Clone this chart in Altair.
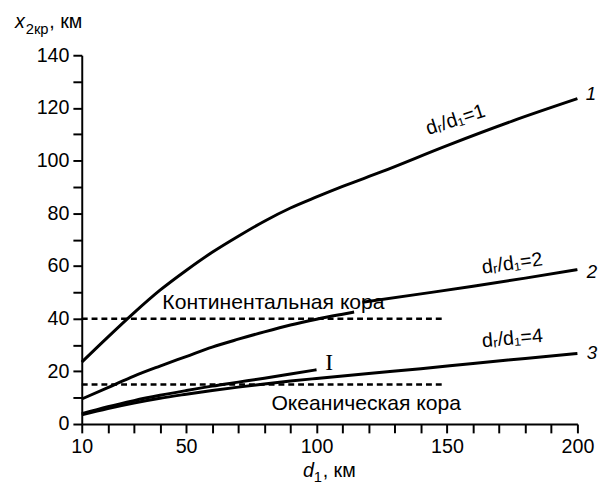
import altair as alt
import pandas as pd

# ---- data ----
d1_c1 = [10, 20, 30, 40, 50, 60, 70, 80, 90, 100, 110, 125, 150, 175, 200]
x2_c1 = [23.5, 33.0, 42.2, 50.8, 58.3, 65.2, 71.3, 77.0, 82.0, 86.2, 90.2, 95.8, 105.7, 115.0, 123.5]

d1_c2a = [10, 20, 30, 40, 50, 60, 70, 80, 90, 100, 110, 114.4]
x2_c2a = [9.5, 13.8, 18.2, 22.0, 25.6, 29.2, 32.2, 35.0, 37.6, 39.8, 41.7, 42.5]
d1_c2b = [117.6, 140, 160, 180, 200]
x2_c2b = [46.2, 49.4, 52.3, 55.4, 58.6]

d1_c3 = [10, 20, 30, 40, 50, 60, 70, 80, 90, 100, 120, 140, 160, 180, 200]
x2_c3 = [3.5, 5.9, 8.0, 9.8, 11.3, 12.7, 14.0, 15.2, 16.3, 17.3, 19.2, 21.0, 23.0, 24.9, 26.8]

d1_cI = [10, 20, 30, 40, 50, 60, 70, 80, 90, 100]
x2_cI = [3.9, 6.6, 8.9, 10.9, 12.7, 14.4, 15.9, 17.4, 19.0, 20.6]

crust_levels = [40, 15]
crust_start = [10, 10]
crust_end = [149, 149]

x_ticks = list(range(10, 201, 10))
y_ticks = list(range(0, 141, 5))

FONT = "Liberation Sans"

rows = []
for name, xs, ys in [("1", d1_c1, x2_c1), ("2a", d1_c2a, x2_c2a), ("2b", d1_c2b, x2_c2b),
                     ("3", d1_c3, x2_c3), ("I", d1_cI, x2_cI)]:
    for a, b in zip(xs, ys):
        rows.append({"series": name, "d1": a, "x2": b})
df = pd.DataFrame(rows)

xscale = alt.Scale(domain=[10, 200], nice=False, zero=False)
yscale = alt.Scale(domain=[0, 140], nice=False, zero=True)

xaxis = alt.Axis(values=x_ticks, title=None, grid=False, labelOverlap=False, labelFlush=False,
                 tickCount=20,
                 labelExpr="(datum.value == 10 || datum.value % 50 == 0) ? datum.label : ''")
yaxis = alt.Axis(values=y_ticks, title=None, grid=False, labelOverlap=False, tickCount=28,
                 labelExpr="(datum.value % 20 == 0) ? datum.label : ''")

def X(f):
    return alt.X(f, type="quantitative", scale=xscale, axis=xaxis)

def Y(f):
    return alt.Y(f, type="quantitative", scale=yscale, axis=yaxis)

lines = alt.Chart(df).mark_line(color="black", strokeWidth=3, interpolate="monotone").encode(
    x=X("d1"), y=Y("x2"), detail="series:N",
)

dash_df = pd.DataFrame({"y": crust_levels, "x": crust_start, "xe": crust_end})
dashes = alt.Chart(dash_df).mark_rule(color="black", strokeWidth=2.5, strokeDash=[6, 4]).encode(
    x=X("x"), x2="xe:Q", y=Y("y")
)

def txt(df_, **kw):
    return alt.Chart(pd.DataFrame(df_)).mark_text(font=FONT, color="black", **kw).encode(
        x=X("x"), y=Y("y"), text="t:N")

cont = txt({"x": [40.9], "y": [43.7], "t": ["Континентальная кора"]},
           fontSize=21.5, align="left", baseline="alphabetic")
ocean = txt({"x": [82.7], "y": [5.2], "t": ["Океаническая кора"]},
            fontSize=21.5, align="left", baseline="alphabetic")
roman = alt.Chart(pd.DataFrame({"x": [104.8], "y": [23.0], "t": ["I"]})).mark_text(
    font="Liberation Serif", fontSize=24, color="black", align="center", baseline="middle"
).encode(x=X("x"), y=Y("y"), text="t:N")

lab1 = txt({"x": [154.0], "y": [113.3], "t": ["dᵣ/d₁=1"]}, fontSize=20, align="center",
           baseline="alphabetic", angle=342)
lab2 = txt({"x": [175.3], "y": [58.7], "t": ["dᵣ/d₁=2"]}, fontSize=20, align="center",
           baseline="alphabetic", angle=352)
lab4 = txt({"x": [175.3], "y": [30.2], "t": ["dᵣ/d₁=4"]}, fontSize=20, align="center",
           baseline="alphabetic", angle=355)

nums = txt({"x": [205.2, 205.6, 205.6], "y": [125.4, 57.8, 26.9], "t": ["1", "2", "3"]},
           fontSize=19, fontStyle="italic", align="center", baseline="middle")

one = pd.DataFrame({"a": [0]})
def pix(text, px, py, size, style="normal", align="left"):
    return alt.Chart(one).mark_text(font=FONT, color="black", fontSize=size, fontStyle=style,
                                    align=align, baseline="alphabetic", text=text).encode(
        x=alt.value(px), y=alt.value(py))

ytitle = pix("x", -68, -28, 20, "italic") + pix("2кр", -57, -22, 15) + pix(", км", -33, -28, 20)
xtitle = pix("d", 225, 429, 20, "italic") + pix("1", 236, 434, 15) + pix(", км", 245, 429, 20)

chart = alt.layer(lines, dashes, cont, ocean, roman, lab1, lab2, lab4, nums, ytitle, xtitle).properties(
    width=504, height=375,
    autosize=alt.AutoSizeParams(type="none"),
    padding={"left": 75, "top": 44, "right": 25, "bottom": 60},
).configure_view(stroke=None).configure_axis(
    labelFont=FONT, labelFontSize=20, labelColor="black", domainColor="black", tickColor="black",
    domainWidth=2, tickWidth=2, tickSize=9, labelPadding=4,
)

chart.save("out.html", embed_options={"renderer": "svg", "actions": False})
